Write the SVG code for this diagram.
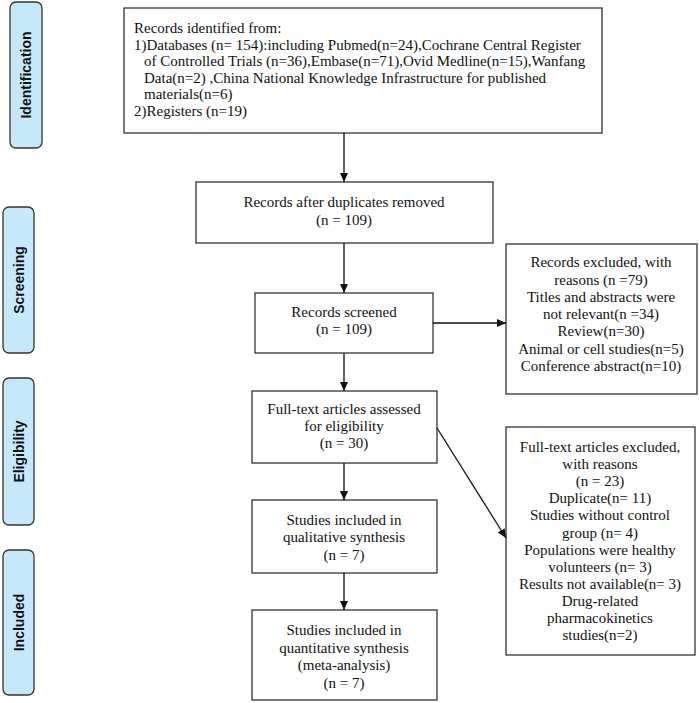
<svg xmlns="http://www.w3.org/2000/svg" width="699" height="703" viewBox="0 0 699 703">
<style>
.stage rect{fill:#c6e9fa;stroke:#333;stroke-width:1.3}
.stage text{font-family:"Liberation Sans",Arial,sans-serif;font-weight:bold;font-size:14px;fill:#111;text-anchor:middle}
.box{fill:#fff;stroke:#333;stroke-width:1.3}
.t{font-family:"Liberation Serif","Times New Roman",serif;font-size:15px;fill:#111}
.c{text-anchor:middle}
.conn line{stroke:#111;stroke-width:1.3}
</style>
<defs>
<marker id="ah" markerWidth="10" markerHeight="10" refX="9" refY="5" orient="auto" markerUnits="userSpaceOnUse">
<path d="M0,1 L9,5 L0,9 Z" fill="#111"/>
</marker>
</defs>
<rect width="699" height="703" fill="#fff"/>
<g id="stage-identification" class="stage"><rect x="10" y="2" width="32" height="146" rx="6"/><text transform="translate(31,75) rotate(-90)">Identification</text></g>
<g id="stage-screening" class="stage"><rect x="3" y="207" width="31" height="146" rx="6"/><text transform="translate(23.5,280) rotate(-90)">Screening</text></g>
<g id="stage-eligibility" class="stage"><rect x="3" y="378" width="31" height="147" rx="6"/><text transform="translate(23.5,451.5) rotate(-90)">Eligibility</text></g>
<g id="stage-included" class="stage"><rect x="3" y="550" width="31" height="145" rx="6"/><text transform="translate(23.5,622.5) rotate(-90)">Included</text></g>

<g id="identified"><rect class="box" x="124" y="8" width="478" height="125"/>
<text class="t" x="134" y="33">Records identified from:</text>
<text class="t" x="134" y="50">1)Databases (n= 154):including Pubmed(n=24),Cochrane Central Register</text>
<text class="t" x="144" y="66">of Controlled Trials (n=36),Embase(n=71),Ovid Medline(n=15),Wanfang</text>
<text class="t" x="144" y="83">Data(n=2) ,China National Knowledge Infrastructure for published</text>
<text class="t" x="144" y="99">materials(n=6)</text>
<text class="t" x="134" y="116">2)Registers (n=19)</text>
</g>
<g id="duplicates"><rect class="box" x="196" y="182" width="297" height="61"/>
<text class="t c" x="344" y="207">Records after duplicates removed</text>
<text class="t c" x="344" y="225">(n = 109)</text>
</g>
<g id="screened"><rect class="box" x="255" y="293" width="178" height="60"/>
<text class="t c" x="344" y="317">Records screened</text>
<text class="t c" x="344" y="334">(n = 109)</text>
</g>
<g id="excluded"><rect class="box" x="506" y="244" width="191" height="150"/>
<text class="t c" x="601" y="267">Records excluded, with</text>
<text class="t c" x="601" y="285">reasons (n =79)</text>
<text class="t c" x="601" y="302">Titles and abstracts were</text>
<text class="t c" x="601" y="319">not relevant(n =34)</text>
<text class="t c" x="601" y="336">Review(n=30)</text>
<text class="t c" x="601" y="354">Animal or cell studies(n=5)</text>
<text class="t c" x="601" y="371">Conference abstract(n=10)</text>
</g>
<g id="fulltext"><rect class="box" x="252" y="391" width="185" height="72"/>
<text class="t c" x="344" y="414">Full-text articles assessed</text>
<text class="t c" x="344" y="431">for eligibility</text>
<text class="t c" x="344" y="448">(n = 30)</text>
</g>
<g id="fulltext-excluded"><rect class="box" x="506" y="427" width="189" height="228"/>
<text class="t c" x="600" y="452">Full-text articles excluded,</text>
<text class="t c" x="600" y="469">with reasons</text>
<text class="t c" x="600" y="486">(n = 23)</text>
<text class="t c" x="600" y="503">Duplicate(n= 11)</text>
<text class="t c" x="600" y="520">Studies without control</text>
<text class="t c" x="600" y="538">group (n= 4)</text>
<text class="t c" x="600" y="555">Populations were healthy</text>
<text class="t c" x="600" y="572">volunteers (n= 3)</text>
<text class="t c" x="600" y="589">Results not available(n= 3)</text>
<text class="t c" x="600" y="606">Drug-related</text>
<text class="t c" x="600" y="623">pharmacokinetics</text>
<text class="t c" x="600" y="640">studies(n=2)</text>
</g>
<g id="qualitative"><rect class="box" x="252" y="500" width="185" height="73"/>
<text class="t c" x="344" y="525">Studies included in</text>
<text class="t c" x="344" y="542">qualitative synthesis</text>
<text class="t c" x="344" y="560">(n = 7)</text>
</g>
<g id="quantitative"><rect class="box" x="252" y="610" width="185" height="90"/>
<text class="t c" x="344" y="635">Studies included in</text>
<text class="t c" x="344" y="653">quantitative synthesis</text>
<text class="t c" x="344" y="670">(meta-analysis)</text>
<text class="t c" x="344" y="688">(n = 7)</text>
</g>
<g id="connectors" class="conn">
<line x1="344" y1="133" x2="344" y2="182" marker-end="url(#ah)"/>
<line x1="344" y1="243" x2="344" y2="293" marker-end="url(#ah)"/>
<line x1="433" y1="323" x2="506" y2="323" marker-end="url(#ah)"/>
<line x1="344" y1="353" x2="344" y2="391" marker-end="url(#ah)"/>
<line x1="437" y1="428" x2="506" y2="538" marker-end="url(#ah)"/>
<line x1="344" y1="463" x2="344" y2="500" marker-end="url(#ah)"/>
<line x1="344" y1="573" x2="344" y2="610" marker-end="url(#ah)"/>
</g>
</svg>
